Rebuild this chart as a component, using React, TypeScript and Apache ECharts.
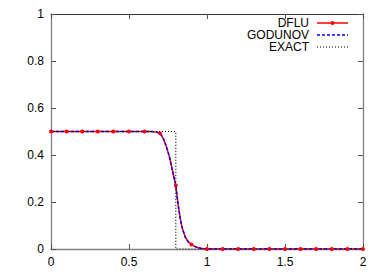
import React, { useEffect, useRef } from "react";
import * as echarts from "echarts";

// Sample positions (x) for the numerical solutions
const X_VALUES = [
  0, 0.1, 0.2, 0.3, 0.4, 0.5, 0.6, 0.62, 0.64, 0.66, 0.68, 0.7, 0.72, 0.74,
  0.76, 0.78, 0.79, 0.8, 0.81, 0.82, 0.83, 0.84, 0.86, 0.88, 0.9, 0.92, 0.94,
  0.96, 0.98, 1.0, 1.1, 1.2, 1.3, 1.4, 1.5, 1.6, 1.7, 1.8, 1.9, 2.0,
];
const DFLU_Y = [
  0.5, 0.5, 0.5, 0.5, 0.5, 0.5, 0.5, 0.5, 0.5, 0.499, 0.497, 0.492, 0.47, 0.435,
  0.39, 0.33, 0.3, 0.27, 0.215, 0.165, 0.125, 0.092, 0.052, 0.03, 0.019, 0.011,
  0.006, 0.003, 0.001, 0, 0, 0, 0, 0, 0, 0, 0, 0, 0, 0,
];
const GODUNOV_Y = [
  0.5, 0.5, 0.5, 0.5, 0.5, 0.5, 0.5, 0.5, 0.5, 0.499, 0.497, 0.492, 0.47, 0.435,
  0.39, 0.33, 0.3, 0.27, 0.215, 0.165, 0.125, 0.092, 0.052, 0.03, 0.019, 0.011,
  0.006, 0.003, 0.001, 0, 0, 0, 0, 0, 0, 0, 0, 0, 0, 0,
];
const EXACT_X = [0, 0.8, 0.8, 2];
const EXACT_Y = [0.5, 0.5, 0, 0];

const X_TICKS = { min: 0, max: 2, interval: 0.5 };
const Y_TICKS = { min: 0, max: 1, interval: 0.2 };
const SERIES_NAMES = ["DFLU", "GODUNOV", "EXACT"];
const SERIES_COLORS = ["#ff0000", "#0000ff", "#000000"];
const SERIES_DASH: (number[] | null)[] = [null, [3, 2], [1, 2]];

const FONT = "Liberation Sans, Arial, Helvetica, sans-serif";

export default function App() {
  const ref = useRef<HTMLDivElement>(null);
  useEffect(() => {
    if (!ref.current) return;
    const chart = echarts.init(ref.current, undefined, { renderer: "svg" });
    const pairs = (xs: number[], ys: number[]) => xs.map((x, i) => [x, ys[i]]);
    const isMarker = (x: number) => Math.abs(x * 10 - Math.round(x * 10)) < 1e-6;
    const tickStyle = { show: true, inside: true, length: 5, lineStyle: { color: "#555", width: 1 } };
    const axisCommonX = {
      type: "value" as const,
      min: X_TICKS.min,
      max: X_TICKS.max,
      interval: X_TICKS.interval,
      splitLine: { show: false },
    };
    const axisCommonY = {
      type: "value" as const,
      min: Y_TICKS.min,
      max: Y_TICKS.max,
      interval: Y_TICKS.interval,
      splitLine: { show: false },
    };

    // Legend drawn as graphic (text right-aligned, sample on the right)
    const legendGraphics: any[] = [];
    SERIES_NAMES.forEach((name, i) => {
      const cy = 23 + i * 12;
      legendGraphics.push({
        type: "text",
        left: undefined,
        x: 309,
        y: cy,
        style: {
          text: name,
          textAlign: "right",
          textVerticalAlign: "middle",
          fontFamily: FONT,
          fontSize: 12,
          lineHeight: 12,
          fill: "#000",
        },
      });
      legendGraphics.push({
        type: "line",
        shape: { x1: 317, y1: cy, x2: 348, y2: cy },
        style: {
          stroke: SERIES_COLORS[i],
          lineWidth: i === 2 ? 1.2 : 1.5,
          lineDash: SERIES_DASH[i] || undefined,
        },
      });
      if (i === 0) {
        legendGraphics.push({
          type: "circle",
          shape: { cx: 332.5, cy, r: 2 },
          style: { fill: SERIES_COLORS[0] },
        });
      }
    });

    chart.setOption({
      animation: false,
      backgroundColor: "#fff",
      textStyle: { fontFamily: FONT },
      grid: { left: 51, right: 26, top: 14, bottom: 24, containLabel: false },
      graphic: legendGraphics,
      xAxis: [
        {
          ...axisCommonX,
          position: "bottom",
          axisLine: { show: true, lineStyle: { color: "#808080", width: 1.3 } },
          axisTick: tickStyle,
          axisLabel: { color: "#000", fontSize: 12, fontFamily: FONT, margin: 7 },
        },
        {
          ...axisCommonX,
          position: "top",
          axisLine: { show: true, onZero: false, lineStyle: { color: "#333", width: 1 } },
          axisTick: tickStyle,
          axisLabel: { show: false },
        },
      ],
      yAxis: [
        {
          ...axisCommonY,
          position: "left",
          axisLine: { show: true, lineStyle: { color: "#808080", width: 1.3 } },
          axisTick: tickStyle,
          axisLabel: { color: "#000", fontSize: 12, fontFamily: FONT, margin: 7 },
        },
        {
          ...axisCommonY,
          position: "right",
          axisLine: { show: true, onZero: false, lineStyle: { color: "#808080", width: 1.3 } },
          axisTick: tickStyle,
          axisLabel: { show: false },
        },
      ],
      series: [
        {
          name: SERIES_NAMES[0],
          type: "line",
          data: pairs(X_VALUES, DFLU_Y),
          lineStyle: { color: SERIES_COLORS[0], width: 1.5, type: "solid" },
          itemStyle: { color: SERIES_COLORS[0] },
          symbol: "circle",
          showSymbol: true,
          showAllSymbol: true,
          symbolSize: (v: number[]) => (isMarker(v[0]) ? 4 : 0),
        },
        {
          name: SERIES_NAMES[1],
          type: "line",
          data: pairs(X_VALUES, GODUNOV_Y),
          lineStyle: { color: SERIES_COLORS[1], width: 1.5, type: SERIES_DASH[1] },
          itemStyle: { color: SERIES_COLORS[1] },
          showSymbol: false,
          symbol: "none",
        },
        {
          name: SERIES_NAMES[2],
          type: "line",
          data: pairs(EXACT_X, EXACT_Y),
          lineStyle: { color: SERIES_COLORS[2], width: 1.2, type: SERIES_DASH[2] },
          itemStyle: { color: SERIES_COLORS[2] },
          showSymbol: false,
          symbol: "none",
        },
      ],
    });
    return () => chart.dispose();
  }, []);
  return (
    <div
      ref={ref}
      style={{ position: "absolute", left: 0, top: 0, width: 389, height: 273 }}
    />
  );
}
